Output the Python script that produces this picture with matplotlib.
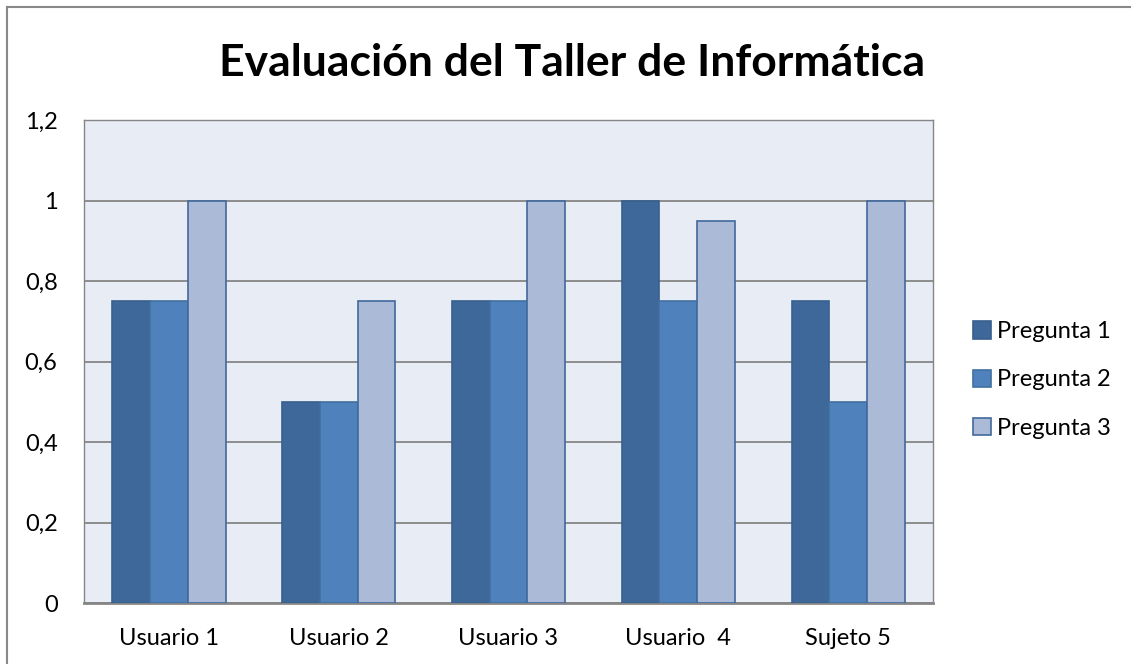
import matplotlib
matplotlib.use("Agg")
import matplotlib.pyplot as plt
import numpy as np
from matplotlib.lines import Line2D
from matplotlib.patches import Patch

categories = ["Usuario 1", "Usuario 2", "Usuario 3", "Usuario  4", "Sujeto 5"]
pregunta1 = [0.75, 0.5, 0.75, 1.0, 0.75]
pregunta2 = [0.75, 0.5, 0.75, 0.75, 0.5]
pregunta3 = [1.0, 0.75, 1.0, 0.95, 1.0]
series_names = ["Pregunta 1", "Pregunta 2", "Pregunta 3"]
yticks = [0, 0.2, 0.4, 0.6, 0.8, 1.0, 1.2]
ytick_labels = ["0", "0,2", "0,4", "0,6", "0,8", "1", "1,2"]

fill_colors = ["#3e6899", "#4f81bd", "#aabad7"]
edge_colors = ["#37608f", "#41709f", "#41699b"]

plt.rcParams['font.family'] = ['Lato', 'DejaVu Sans']

W, H = 1131, 664
fig = plt.figure(figsize=(W / 100, H / 100), dpi=100)
ax = fig.add_axes([84 / W, 1 - 603 / H, (933 - 84) / W, (603 - 120) / H])
ax.set_facecolor("#e8ecf4")

x = np.arange(len(categories))
bw = 1 / 4.5
for i, (vals, fc, ec) in enumerate(zip([pregunta1, pregunta2, pregunta3], fill_colors, edge_colors)):
    ax.bar(x + (i - 1) * bw, vals, width=bw, color=fc, edgecolor=ec, linewidth=1.2,
           label=series_names[i], zorder=3)

ax.set_xlim(-0.5, len(categories) - 0.5)
ax.set_ylim(0, 1.2)
ax.set_yticks(yticks)
ax.set_yticklabels(ytick_labels, fontsize=17)
ax.set_xticks(x)
ax.set_xticklabels(categories, fontsize=17)
ax.tick_params(axis='both', length=0, colors="#000000")
ax.tick_params(axis='y', pad=19)
ax.tick_params(axis='x', pad=18)
ax.grid(axis='y', color="#868686", linewidth=1.3, zorder=1)
for s in ["top", "right", "left"]:
    ax.spines[s].set_color("#868686")
    ax.spines[s].set_linewidth(1.0)
ax.spines["bottom"].set_color("#868686")
ax.spines["bottom"].set_linewidth(2.0)

fig.text(572 / W, 1 - 63 / H, "Evaluación del Taller de Informática", ha="center", va="center",
         fontsize=32, fontweight="bold")

handles = [Patch(facecolor=fc, edgecolor=ec, linewidth=1.2) for fc, ec in zip(fill_colors, edge_colors)]
fig.legend(handles, series_names, loc="center left", bbox_to_anchor=(964 / W, 1 - 380 / H),
           frameon=False, fontsize=17, handlelength=0.76, handleheight=0.76, handletextpad=0.25,
           labelspacing=1.15, borderaxespad=0)

# outer chart border (top and left visible)
fig.add_artist(Line2D([6.5 / W, 6.5 / W], [0, 1 - 7 / H], transform=fig.transFigure, color="#888888", linewidth=1.5))
fig.add_artist(Line2D([6.5 / W, 1], [1 - 7 / H, 1 - 7 / H], transform=fig.transFigure, color="#888888", linewidth=1.5))

fig.savefig("out.png", dpi=100)
